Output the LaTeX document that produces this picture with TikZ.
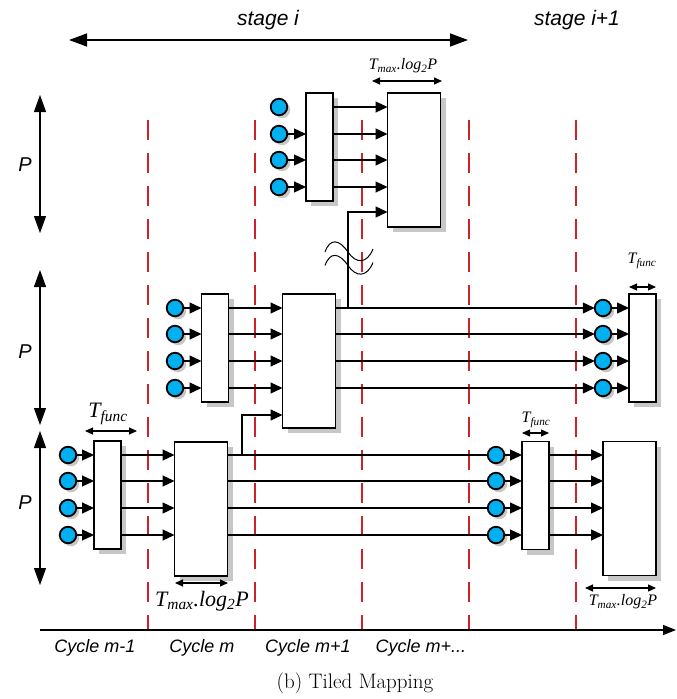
\documentclass[tikz,border=0pt]{standalone}
\usepackage{fontspec}
\newfontfamily\arialfont{Liberation Sans}
\newfontfamily\timesfont{Liberation Serif}
\usetikzlibrary{arrows.meta,shadows,calc}
\definecolor{cyanblue}{RGB}{0,176,240}
\definecolor{redc}{RGB}{205,35,40}
\begin{document}
\begin{tikzpicture}[x=1pt,y=-1pt,
  blk/.style={draw, line width=1.3pt, fill=white, minimum width=27pt, minimum height=108pt, inner sep=0pt, outer sep=0pt,
    general shadow={fill=black!22, shadow xshift=5pt, shadow yshift=-5pt}},
  wide/.style={blk, minimum width=53pt, minimum height=134pt},
  dot/.style={circle, draw, line width=1.8pt, fill=cyanblue, minimum size=16.5pt, inner sep=0pt, outer sep=0pt,
    general shadow={fill=black!22, shadow xshift=3pt, shadow yshift=-3pt}},
  ln/.style={line width=1.3pt},
  arr/.style={line width=1.3pt, -{Triangle[length=12pt,width=11pt]}},
  dimarr/.style={line width=1.1pt, {Triangle[length=8pt,width=7pt]}-{Triangle[length=8pt,width=7pt]}},
  bigarr/.style={line width=1.4pt, {Triangle[length=18pt,width=13pt]}-{Triangle[length=18pt,width=13pt]}},
  redd/.style={draw=redc, line width=1.4pt, dash pattern=on 20pt off 13pt},
  sans/.style={font=\arialfont\itshape\fontsize{18}{22}\selectfont},
  stg/.style={font=\arialfont\itshape\fontsize{21}{25}\selectfont},
  tbig/.style={font=\timesfont\itshape\fontsize{22}{26}\selectfont, inner sep=0pt},
  tsmall/.style={font=\timesfont\itshape\fontsize{16}{19}\selectfont, inner sep=0pt}
]
\useasboundingbox (0,0) rectangle (677,699);

% dashed cycle borders
\foreach \x [count=\k] in {148,255,362,469,576} {
  \coordinate (dt\k) at (\x,120);
  \coordinate (db\k) at (\x,630);
  \draw[redd] (dt\k) -- (db\k);
}

% axis
\coordinate (ax0) at (40,630);
\coordinate (ax1) at (676,630);
\draw[line width=1.3pt, -{Triangle[length=13pt,width=10pt]}] (ax0) -- (ax1);

% stage arrow and labels
\node[stg] (st1) at (268,20) {stage i};
\node[stg] (st2) at (577,20) {stage i+1};
\coordinate (sL) at (69,40);
\coordinate (sR) at (468,40);
\draw[bigarr] (sL) -- (sR);

% P arrows
\coordinate (p1a) at (40,95);  \coordinate (p1b) at (40,233);
\coordinate (p2a) at (40,270); \coordinate (p2b) at (40,425);
\coordinate (p3a) at (40,431); \coordinate (p3b) at (40,585);
\draw[line width=1.3pt, {Triangle[length=17pt,width=12pt]}-{Triangle[length=17pt,width=12pt]}] (p1a) -- (p1b);
\draw[line width=1.3pt, {Triangle[length=17pt,width=12pt]}-{Triangle[length=17pt,width=12pt]}] (p2a) -- (p2b);
\draw[line width=1.3pt, {Triangle[length=17pt,width=12pt]}-{Triangle[length=17pt,width=12pt]}] (p3a) -- (p3b);
\node[sans, font=\arialfont\itshape\fontsize{20}{24}\selectfont] (P1) at (25,165) {P};
\node[sans, font=\arialfont\itshape\fontsize{20}{24}\selectfont] (P2) at (25,352) {P};
\node[sans, font=\arialfont\itshape\fontsize{20}{24}\selectfont] (P3) at (25,503) {P};

% boxes
\node[blk]  (TS)  at (319.5,147) {};
\node[wide] (TB)  at (414,160) {};
\node[blk]  (MS)  at (215,348) {};
\node[wide] (MB)  at (309,361) {};
\node[blk]  (MR)  at (642.5,348) {};
\node[blk]  (BS)  at (107.5,495) {};
\node[wide] (BB)  at (201,509) {};
\node[blk]  (BRS) at (535.5,495.5) {};
\node[wide] (BRB) at (629.5,508.5) {};

% circles
\foreach \i/\y in {1/107,2/134,3/160,4/187} { \node[dot] (t\i) at (279,\y) {}; }
\foreach \i/\y in {1/308,2/334,3/361,4/388} { \node[dot] (m\i) at (175,\y) {}; \node[dot] (r\i) at (603,\y) {}; }
\foreach \i/\y in {1/455,2/481,3/508,4/535} { \node[dot] (b\i) at (68,\y) {}; \node[dot] (q\i) at (496,\y) {}; }

% top group
\foreach \i in {2,3,4} { \draw[arr] (t\i) -- (TS.west |- t\i); }
\foreach \i in {1,...,4} { \draw[arr] (TS.east |- t\i) -- (TB.west |- t\i); }

% middle group
\foreach \i in {1,...,4} {
  \draw[arr] (m\i) -- (MS.west |- m\i);
  \draw[arr] (MS.east |- m\i) -- (MB.west |- m\i);
  \draw[arr] (MB.east |- m\i) -- (r\i);
  \draw[arr] (r\i) -- (MR.west |- r\i);
}

% bottom group
\foreach \i in {1,...,4} {
  \draw[arr] (b\i) -- (BS.west |- b\i);
  \draw[arr] (BS.east |- b\i) -- (BB.west |- b\i);
  \draw[ln] (BB.east |- b\i) -- (q\i);
  \draw[arr] (q\i) -- (BRS.west |- q\i);
  \draw[arr] (BRS.east |- q\i) -- (BRB.west |- q\i);
}

% feedback connectors
\coordinate (tapT) at (348,308);
\coordinate (tinT) at (348,212);
\draw[arr] (tapT) -- (tinT) -- (TB.west |- tinT);
\coordinate (tapM) at (242,455);
\coordinate (tinM) at (242,415);
\draw[arr] (tapM) -- (tinM) -- (MB.west |- tinM);

% break marks
\draw[line width=1pt] (325,252) .. controls (330,238) and (339,239) .. (348,252) .. controls (356,264) and (367,264) .. (373,249);
\draw[line width=1pt] (325,265.5) .. controls (330,251.5) and (339,252.5) .. (348,265.5) .. controls (356,277.5) and (367,277.5) .. (373,262.5);

% dimension arrows and labels
\coordinate (dTa) at (372,81);  \coordinate (dTb) at (442,81);
\draw[dimarr] (dTa) -- (dTb);
\node[tsmall] (lT) at (403,66) {T\textsubscript{max}.log\textsubscript{2}P};

\coordinate (dBSa) at (85,431);  \coordinate (dBSb) at (137,431);
\draw[dimarr] (dBSa) -- (dBSb);
\node[tbig] (lBS) at (108,414) {T\textsubscript{func}};

\coordinate (dBBa) at (175,583);  \coordinate (dBBb) at (228,583);
\draw[dimarr] (dBBa) -- (dBBb);
\node[tbig] (lBB) at (202,601) {T\textsubscript{max}.log\textsubscript{2}P};

\coordinate (dRSa) at (522,433);  \coordinate (dRSb) at (549,433);
\draw[dimarr] (dRSa) -- (dRSb);
\node[tsmall] (lRS) at (536,420) {T\textsubscript{func}};

\coordinate (dMRa) at (629,287);  \coordinate (dMRb) at (656,287);
\draw[dimarr] (dMRa) -- (dMRb);
\node[tsmall] (lMR) at (642,261) {T\textsubscript{func}};

\coordinate (dRBa) at (585,588);  \coordinate (dRBb) at (656,588);
\draw[dimarr] (dRBa) -- (dRBb);
\node[tsmall] (lRB) at (623,602) {T\textsubscript{max}.log\textsubscript{2}P};

% cycle labels
\node[sans] (c1) at (95,648) {Cycle m-1};
\node[sans] (c2) at (202,648) {Cycle m};
\node[sans] (c3) at (308,648) {Cycle m+1};
\node[sans] (c4) at (421,648) {Cycle m+...};

% caption
\node[font=\fontsize{21}{25}\selectfont] (cap) at (355,683) {(b) Tiled Mapping};
\end{tikzpicture}
\end{document}
